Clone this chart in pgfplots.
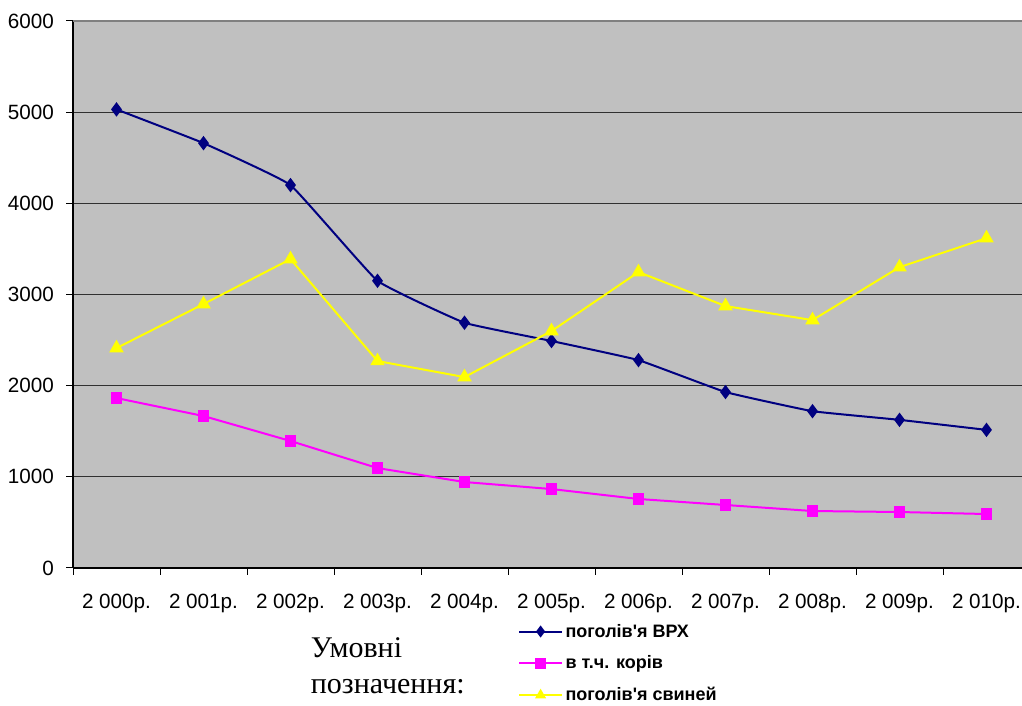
\documentclass[border=0pt]{standalone}
\usepackage{fontspec}
\setmainfont{Liberation Sans}[Ligatures=TeXOff]
\newfontfamily\timesfont{Liberation Serif}
\usepackage{pgfplots}
\pgfplotsset{compat=1.18}
\definecolor{navyline}{HTML}{000080}
\definecolor{pinkline}{HTML}{FF00FF}
\definecolor{yellowline}{HTML}{FFFF00}
\definecolor{plotbg}{HTML}{C0C0C0}
\definecolor{gridc}{HTML}{303030}

% 1 px of the reference = 0.75pt
\begin{document}
\begin{tikzpicture}
\useasboundingbox (0,0) rectangle (766.5pt,529.5pt);
\clip (0,0) rectangle (766.5pt,529.5pt);
\begin{axis}[
    at={(54.75pt,103.5pt)}, anchor=south west,
    scale only axis,
    width=717.75pt, height=410.25pt,
    xmin=-0.5, xmax=10.5,
    ymin=0, ymax=6000,
    ytick={0,1000,...,6000},
    xtick={-0.5,0.5,...,10.5},
    xticklabels={},
    extra x ticks={0,...,10},
    extra x tick labels={2 000р.,2 001р.,2 002р.,2 003р.,2 004р.,2 005р.,2 006р.,2 007р.,2 008р.,2 009р.,2 010р.},
    extra x tick style={major tick length=0pt, xticklabel style={yshift=-16pt}},
    axis lines=left,
    axis line style={-, black, line width=0.9pt},
    tick align=outside,
    major tick length=5.25pt,
    tick style={black, line width=0.75pt},
    ymajorgrids=true,
    grid style={gridc, line width=0.9pt},
    axis background/.style={fill=plotbg},
    /pgf/number format/1000 sep={},
    /pgf/number format/assume math mode=true,
    ticklabel style={font=\fontsize{15.5}{17}\selectfont},
    yticklabel style={xshift=-5.5pt},
    legend style={at={(0.465,-0.097)}, anchor=north west, draw=none, fill=none,
        font=\bfseries\fontsize{13.5}{15}\selectfont, row sep=8.5pt, inner sep=0pt},
    legend cell align=left,
    legend image code/.code={
        \draw[#1, mark=none] (0pt,0pt) -- (32pt,0pt);
        \draw[#1, mark size=3.3pt] plot coordinates {(16pt,0pt)};
    },
    extra description/.code={
        \draw[gray, line width=1pt] (rel axis cs:0,1) -- (rel axis cs:1,1);
    },
]
\addplot[navyline, line width=1.5pt, smooth, tension=0.18, mark=diamond*, mark size=4.2pt,
    mark options={solid, fill=navyline}]
coordinates {
    (0,5030)(1,4660)(2,4200)(3,3150)(4,2690)(5,2490)(6,2280)(7,1930)(8,1720)(9,1625)(10,1515)
};
\addlegendentry{поголів'я ВРХ}
\addplot[pinkline, line width=1.5pt, mark=square*, mark size=3.7pt,
    mark options={solid, fill=pinkline}]
coordinates {
    (0,1864)(1,1667)(2,1393)(3,1096)(4,943)(5,866)(6,757)(7,691)(8,625)(9,614)(10,592)
};
\addlegendentry{в т.ч. корів}
\addplot[yellowline, line width=1.5pt, mark=triangle*, mark size=4.8pt,
    mark options={solid, fill=yellowline}]
coordinates {
    (0,2412)(1,2895)(2,3388)(3,2270)(4,2094)(5,2599)(6,3246)(7,2873)(8,2719)(9,3300)(10,3618)
};
\addlegendentry{поголів'я свиней}
\end{axis}
\node[anchor=base west, inner sep=0pt, font=\timesfont\fontsize{22.5}{25}\selectfont]
    at (233pt,36pt) {Умовні};
\node[anchor=base west, inner sep=0pt, font=\timesfont\fontsize{22.5}{25}\selectfont]
    at (233pt,9pt) {позначення:};
\end{tikzpicture}
\end{document}
